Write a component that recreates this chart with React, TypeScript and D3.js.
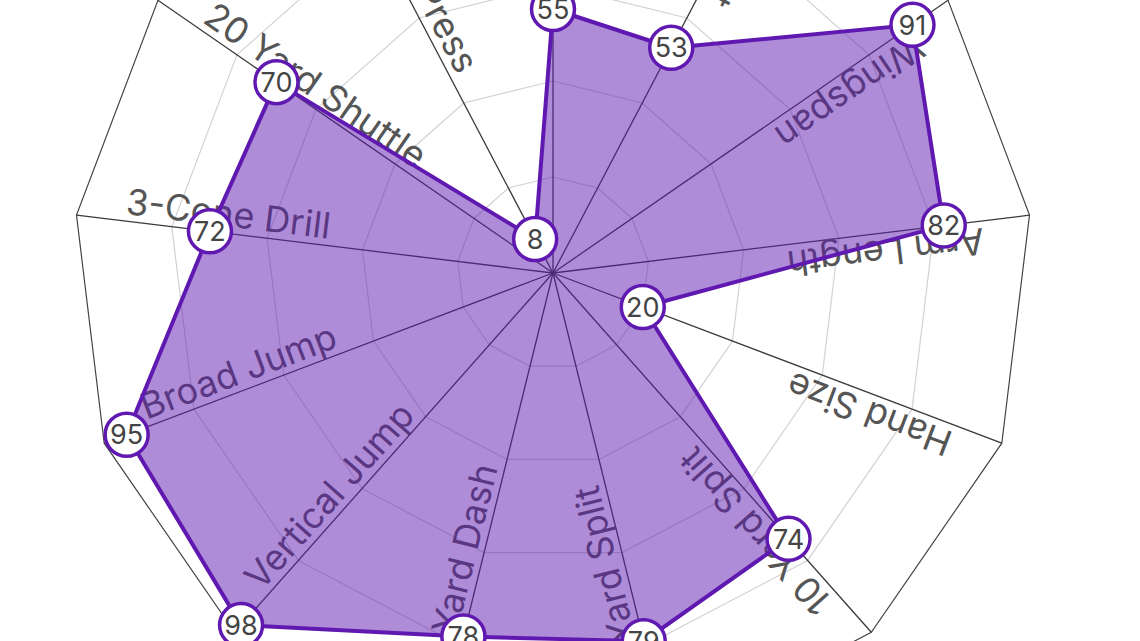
import { useRef, useEffect } from 'react';
import * as d3 from 'd3';

const axes = [
  'Height', 'Weight', 'Wingspan', 'Arm Length', 'Hand Size', '10 Yard Split',
  '20 Yard Split', '40 Yard Dash', 'Vertical Jump', 'Broad Jump', '3-Cone Drill',
  '20 Yard Shuttle', 'Bench Press',
];
const values = [55, 53, 91, 82, 20, 74, 79, 78, 98, 95, 72, 70, 8];
const rings = [20, 40, 60, 80];

export default function App() {
  const svgRef = useRef<SVGSVGElement | null>(null);

  useEffect(() => {
    if (!svgRef.current) return;
    d3.select(svgRef.current).selectAll('*').remove();

    const width = 1140;
    const height = 641;
    const cx = 553;
    const cy = 273;
    const purple = '#6019b0';
    const font = 'Inter, "Open Sans", sans-serif';

    const r = d3.scaleLinear().domain([0, 100]).range([0, 480]);
    const angle = d3.scaleLinear().domain([0, axes.length]).range([0, 2 * Math.PI]);

    const svg = d3.select(svgRef.current)
      .attr('width', width)
      .attr('height', height);

    svg.append('rect').attr('width', width).attr('height', height).attr('fill', '#fff');

    const g = svg.append('g').attr('transform', `translate(${cx},${cy})`);

    const web = d3.lineRadial<number>()
      .angle((_, i) => angle(i))
      .radius(d => r(d))
      .curve(d3.curveLinearClosed);

    // Grid rings
    rings.forEach(v => {
      g.append('path')
        .attr('d', web(axes.map(() => v)))
        .attr('fill', 'none')
        .attr('stroke', '#d2d2d2')
        .attr('stroke-width', 1.2);
    });

    // Outer border
    g.append('path')
      .attr('d', web(axes.map(() => 100)))
      .attr('fill', 'none')
      .attr('stroke', '#444')
      .attr('stroke-width', 1.2);

    // Spokes
    axes.forEach((_, i) => {
      const a = angle(i);
      g.append('line')
        .attr('x1', 0).attr('y1', 0)
        .attr('x2', r(100) * Math.sin(a))
        .attr('y2', -r(100) * Math.cos(a))
        .attr('stroke', '#3a3a3a')
        .attr('stroke-width', 1.3);
    });

    // Axis labels, reading from the outside toward the centre
    axes.forEach((name, i) => {
      const a = angle(i);
      const rr = r(90);
      const x = rr * Math.sin(a);
      const y = -rr * Math.cos(a);
      const rot = (Math.atan2(Math.cos(a), -Math.sin(a)) * 180) / Math.PI;
      g.append('text')
        .attr('transform', `translate(${x},${y}) rotate(${rot})`)
        .attr('dy', -7)
        .attr('text-anchor', 'start')
        .attr('fill', '#555')
        .style('font-family', font)
        .style('font-size', '36px')
        .text(name);
    });

    // Data polygon
    g.append('path')
      .attr('d', web(values))
      .attr('fill', purple)
      .attr('fill-opacity', 0.5)
      .attr('stroke', purple)
      .attr('stroke-width', 4)
      .attr('stroke-linejoin', 'round');

    // Point markers
    const pts = g.selectAll('g.pt')
      .data(values)
      .enter()
      .append('g')
      .attr('transform', (d, i) => `translate(${r(d) * Math.sin(angle(i))},${-r(d) * Math.cos(angle(i))})`);

    pts.append('circle')
      .attr('r', 21.5)
      .attr('fill', '#fff')
      .attr('stroke', purple)
      .attr('stroke-width', 3.5);

    pts.append('text')
      .attr('text-anchor', 'middle')
      .attr('dy', '0.36em')
      .attr('fill', '#444')
      .style('font-family', font)
      .style('font-size', '27px')
      .text(d => String(d));
  }, []);

  return (
    <div style={{ position: 'fixed', left: 0, top: 0, width: 1140, height: 641, overflow: 'hidden' }}>
      <svg ref={svgRef} style={{ display: 'block' }} />
    </div>
  );
}
